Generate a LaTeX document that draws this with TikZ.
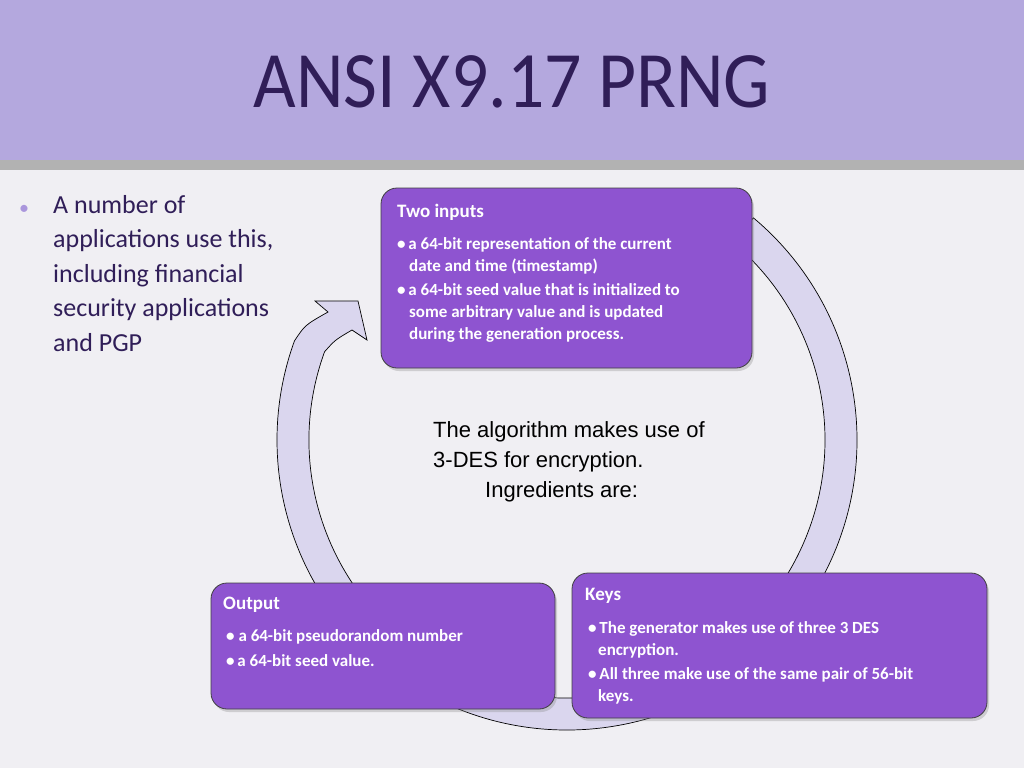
\documentclass[tikz,border=0pt]{standalone}
\usepackage{fontspec}
\setmainfont{Carlito}
\newfontfamily\arialf{Liberation Sans}
\usetikzlibrary{shadows,calc}
\definecolor{band}{RGB}{180,168,222}
\definecolor{paper}{RGB}{240,239,243}
\definecolor{boxfill}{RGB}{142,84,208}
\definecolor{titlec}{RGB}{48,30,88}
\definecolor{ringc}{RGB}{218,214,238}
\definecolor{bull}{RGB}{170,150,220}
\tikzset{
  pbox/.style={draw=black!75,line width=0.8pt,fill=boxfill,rounded corners=16pt,
     drop shadow={shadow xshift=2pt,shadow yshift=-3pt,opacity=0.3}},
  btxt/.style={text=white,align=left,anchor=north west,inner sep=0pt}
}
\begin{document}
\begin{tikzpicture}[x=1pt,y=-1pt]
\useasboundingbox (0,0) rectangle (1024,768);
\fill[paper] (0,0) rectangle (1024,768);
\fill[black!30] (0,158) rectangle (1024,170);
\fill[band] (0,0) rectangle (1024,160);
\node[xscale=0.92,text=titlec,font={\fontsize{80}{80}\selectfont}] (title) at (512,82) {ANSI X9.17 PRNG};
% left text
\node[text=bull,font={\fontsize{20}{20}\selectfont}] (dot) at (24,210) {•};
\node[anchor=north west,align=left,inner sep=0pt,text=titlec,font={\fontsize{26}{34.5}\selectfont}] (lefttext) at (53,195)
 {A number of\\applications use this,\\including financial\\security applications\\and PGP};
% ring with arrow
\coordinate (c) at (567,440);
\filldraw[fill=ringc,draw=black,line width=0.7pt]
  ($(c)+(-50:290)$) arc[start angle=-50,end angle=200,radius=290]
  .. controls (305,325) .. (328,312) -- (315,301) -- (358,301) -- (367,340) -- (352,330)
  .. controls (335,340) .. ($(c)+(200:258)$)
  arc[start angle=200,end angle=-50,radius=258] -- cycle;
% boxes
\draw[pbox] (381,188) rectangle (752,368);
\node[btxt,font={\bfseries\fontsize{19}{22}\selectfont}] (t1) at (397,204) {Two inputs};
\node[btxt,font={\bfseries\fontsize{17}{22}\selectfont}] (t1b) at (397,237) {%
 •\,a 64-bit representation of the current\\
 \hspace*{12pt}date and time (timestamp)\\[2pt]
 •\,a 64-bit seed value that is initialized to\\
 \hspace*{12pt}some arbitrary value and is updated\\
 \hspace*{12pt}during the generation process.};
\node[anchor=north west,align=left,inner sep=0pt,font={\arialf\fontsize{22}{30}\selectfont}] (ctext) at (433,421)
 {The algorithm makes use of\\3-DES for encryption.\\\hspace*{52pt}Ingredients are:};
\draw[pbox] (211,583) rectangle (555,709);
\node[btxt,font={\bfseries\fontsize{19}{22}\selectfont}] (t2) at (223,597) {Output};
\node[btxt,font={\bfseries\fontsize{17}{25}\selectfont}] (t2b) at (226,629) {%
 • a 64-bit pseudorandom number\\
 •\,a 64-bit seed value.};
\draw[pbox] (572,573) rectangle (987,718);
\node[btxt,font={\bfseries\fontsize{19}{22}\selectfont}] (t3) at (585,588) {Keys};
\node[btxt,font={\bfseries\fontsize{17}{22}\selectfont}] (t3b) at (588,621) {%
 •\,The generator makes use of three 3 DES\\
 \hspace*{10pt}encryption.\\[2pt]
 •\,All three make use of the same pair of 56-bit\\
 \hspace*{10pt}keys.};
\end{tikzpicture}
\end{document}
